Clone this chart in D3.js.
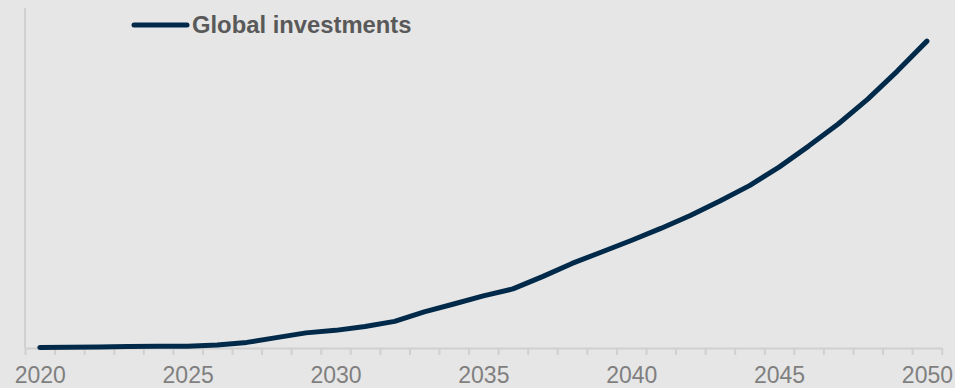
<!DOCTYPE html>
<html>
<head>
<meta charset="utf-8">
<script src="https://cdn.jsdelivr.net/npm/d3@7"></script>
<style>
  html, body { margin: 0; padding: 0; background: #e6e6e6; }
  svg { display: block; }
</style>
</head>
<body>
<svg id="chart" width="955" height="388"></svg>
<script>
const years = d3.range(2020, 2051);
const investments = [0.2, 0.25, 0.35, 0.5, 0.65, 0.65, 1.1, 2.0, 3.7, 5.4, 6.3, 7.7, 9.5,
  12.9, 15.7, 18.6, 21.1, 25.5, 30.2, 34.3, 38.4, 42.7, 47.3, 52.5, 58.0, 64.6,
  72.1, 80.0, 88.9, 98.9, 109.6];
const tickLabels = [2020, 2025, 2030, 2035, 2040, 2045, 2050];
const seriesName = "Global investments";

const W = 955, H = 388;
const plotLeft = 25, plotRight = 941.7, plotBottom = 348, plotTop = 12;
const svg = d3.select("#chart");

svg.append("rect").attr("width", W).attr("height", H).attr("fill", "#e6e6e6");

const x = d3.scaleLinear().domain([years[0] - 0.5, years[years.length - 1] + 0.5]).range([plotLeft, plotRight]);
const y = d3.scaleLinear().domain([0, 120]).range([plotBottom, plotTop]);

// vertical axis line
svg.append("line")
  .attr("x1", plotLeft).attr("x2", plotLeft).attr("y1", 8).attr("y2", plotBottom)
  .attr("stroke", "#d0d0d0").attr("stroke-width", 2);

// x axis: ticks at category boundaries
const boundaries = years.map(v => v - 0.5).concat([years[years.length - 1] + 0.5]);
const gTicks = svg.append("g").attr("transform", `translate(0,${plotBottom})`)
  .call(d3.axisBottom(x).tickValues(boundaries).tickSize(7).tickSizeOuter(0).tickFormat(""));
gTicks.select(".domain").attr("stroke", "#d0d0d0").attr("stroke-width", 2);
gTicks.selectAll(".tick line").attr("stroke", "#d0d0d0").attr("stroke-width", 2);

// x labels at category centres
const gLab = svg.append("g").attr("transform", `translate(0,${plotBottom})`)
  .call(d3.axisBottom(x).tickValues(tickLabels).tickSize(0).tickPadding(0).tickFormat(d3.format("d")));
gLab.select(".domain").remove();
gLab.selectAll(".tick text")
  .attr("y", 35).attr("dy", 0)
  .attr("fill", "#7f7f7f")
  .style("font-family", "Liberation Sans, Arial, sans-serif")
  .style("font-size", "23px");

// line
const line = d3.line().x((d, i) => x(years[i])).y(d => y(d));
svg.append("path")
  .datum(investments)
  .attr("d", line)
  .attr("fill", "none")
  .attr("stroke", "#012a4a")
  .attr("stroke-width", 5)
  .attr("stroke-linejoin", "round")
  .attr("stroke-linecap", "round");

// legend
const lg = svg.append("g");
lg.append("line")
  .attr("x1", 134).attr("x2", 187).attr("y1", 25).attr("y2", 25)
  .attr("stroke", "#012a4a").attr("stroke-width", 5).attr("stroke-linecap", "round");
lg.append("text")
  .attr("x", 192).attr("y", 32.5)
  .attr("fill", "#595959")
  .style("font-family", "Liberation Sans, Arial, sans-serif")
  .style("font-weight", "bold")
  .style("font-size", "23.8px")
  .text(seriesName);
</script>
</body>
</html>
